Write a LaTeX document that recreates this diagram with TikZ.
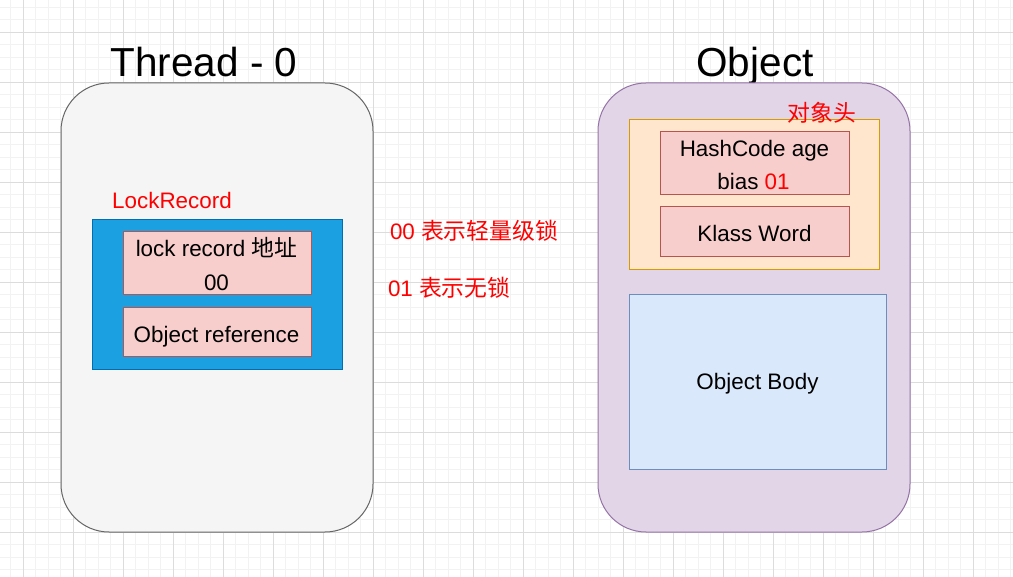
\documentclass[tikz,border=0pt]{standalone}
\usepackage{fontspec}
\setmainfont{Liberation Sans}
\newfontfamily\cjk[Scale=1.02]{Noto Sans CJK SC}
\definecolor{gridminor}{HTML}{F2F2F2}
\definecolor{gridmajor}{HTML}{DCDCDC}
\definecolor{threadfill}{HTML}{F5F5F5}
\definecolor{threadline}{HTML}{666666}
\definecolor{objfill}{HTML}{E1D5E7}
\definecolor{objline}{HTML}{9673A6}
\definecolor{bluefill}{HTML}{1BA1E2}
\definecolor{blueline}{HTML}{006EAF}
\definecolor{pinkfill}{HTML}{F8CECC}
\definecolor{pinkline}{HTML}{B85450}
\definecolor{orangefill}{HTML}{FFE6CC}
\definecolor{orangeline}{HTML}{D79B00}
\definecolor{bodyfill}{HTML}{DAE8FC}
\definecolor{bodyline}{HTML}{6C8EBF}
\definecolor{redtext}{HTML}{FF0000}
\tikzset{
  box/.style={draw, line width=1pt, inner sep=0pt, outer sep=0pt},
  bigbox/.style={box, rounded corners=48pt, minimum width=312pt, minimum height=449pt},
  txt/.style={inner sep=0pt, outer sep=0pt, anchor=base, font=\fontsize{22.4}{26}\selectfont},
  title/.style={inner sep=0pt, outer sep=0pt, anchor=base, font=\fontsize{40.5}{48}\selectfont},
}
\begin{document}
\begin{tikzpicture}[x=1pt,y=-1pt]
\useasboundingbox (0,0) rectangle (1013,577);
\fill[white] (0,0) rectangle (1013,577);
% grid
\foreach \i in {0,...,80} \draw[gridminor, line width=1pt] ({10.8+12.5*\i},0) -- ++(0,577);
\foreach \i in {0,...,45} \draw[gridminor, line width=1pt] (0,{7.3+12.5*\i}) -- ++(1013,0);
\foreach \i in {0,...,19} \draw[gridmajor, line width=1pt] ({23.3+50*\i},0) -- ++(0,577);
\foreach \i in {0,...,10} \draw[gridmajor, line width=1pt] (0,{32.3+50*\i}) -- ++(1013,0);

% Thread side
\node[title] (t0) at (204,77) {Thread - 0};
\node[bigbox, draw=threadline, fill=threadfill] (thread) at (217,307.5) {};
\node[txt, text=redtext] (lrlabel) at (172,209) {LockRecord};
\node[box, draw=blueline, fill=bluefill, minimum width=250pt, minimum height=150pt] (lrbox) at (217,295) {};
\node[box, draw=pinkline, fill=pinkfill, minimum width=188pt, minimum height=63pt] (lr1) at (217,263.5) {};
\node[box, draw=pinkline, fill=pinkfill, minimum width=188pt, minimum height=49pt] (lr2) at (217,332.5) {};
\node[txt] (lr1a) at (216.5,256.5) {lock record {\cjk 地址}};
\node[txt] (lr1b) at (216.5,291) {00};
\node[txt] (lr2a) at (216.5,343) {Object reference};

% middle notes
\node[txt, anchor=base west, text=redtext] (n00) at (390,240) {00 {\cjk 表示轻量级锁}};
\node[txt, anchor=base west, text=redtext] (n01) at (388,296.5) {01 {\cjk 表示无锁}};

% Object side
\node[title] (objt) at (755,77) {Object};
\node[bigbox, draw=objline, fill=objfill] (object) at (754,307.5) {};
\node[box, draw=orangeline, fill=orangefill, minimum width=250pt, minimum height=150pt] (header) at (754,195) {};
\node[txt, anchor=center, text=redtext] (hdrlabel) at (822,113) {\cjk 对象头};
\node[box, draw=pinkline, fill=pinkfill, minimum width=189pt, minimum height=63pt] (hc) at (754.5,163.5) {};
\node[box, draw=pinkline, fill=pinkfill, minimum width=189pt, minimum height=50pt] (kw) at (754.5,232) {};
\node[txt] (hca) at (754.5,157) {HashCode age};
\node[txt] (hcb) at (753.5,190) {bias \textcolor{redtext}{01}};
\node[txt] (kwa) at (754.5,242) {Klass Word};
\node[box, draw=bodyline, fill=bodyfill, minimum width=257pt, minimum height=175pt] (body) at (757.5,382.5) {};
\node[txt] (bodya) at (757.5,390) {Object Body};
\end{tikzpicture}
\end{document}
